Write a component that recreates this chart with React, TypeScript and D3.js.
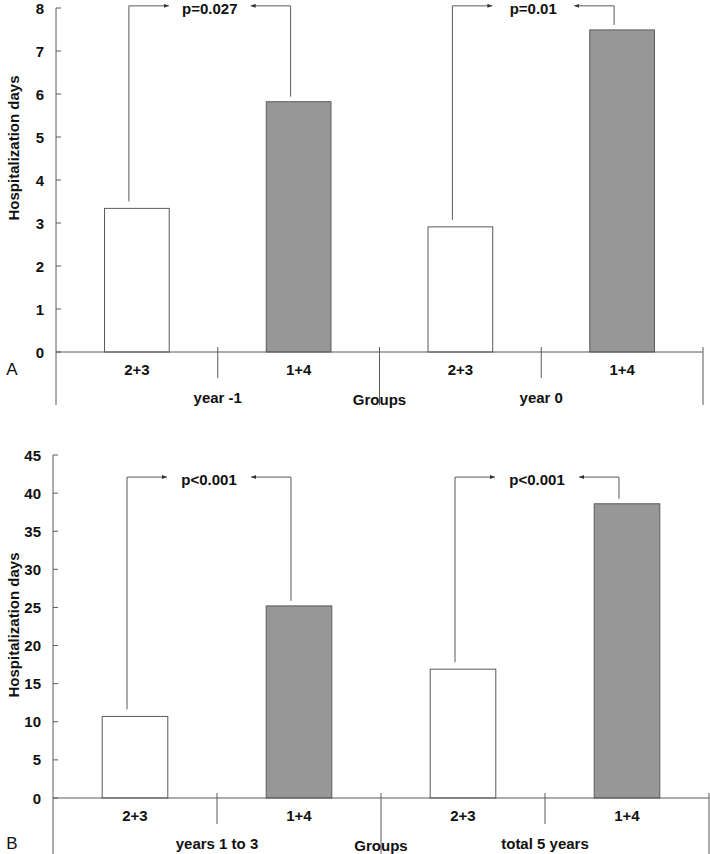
import * as d3 from "d3";

// bar groups, left to right
const groups = ["2+3", "1+4", "2+3", "1+4"];
const periodsA = ["year -1", "year 0"];
const periodsB = ["years 1 to 3", "total 5 years"];

// mean hospitalization days
const valuesA = [3.34, 5.82, 2.91, 7.49];
const valuesB = [10.7, 25.2, 16.9, 38.6];

const pLabelsA = ["p=0.027", "p=0.01"];
const pLabelsB = ["p<0.001", "p<0.001"];

const ticksA = [0, 1, 2, 3, 4, 5, 6, 7, 8];
const ticksB = [0, 5, 10, 15, 20, 25, 30, 35, 40, 45];

// height (in data units) of the significance brackets
const bracketA = 8.05;
const bracketB = 42.1;

const fills = ["#ffffff", "#979797"];
const FONT = "'Liberation Sans', Arial, sans-serif";
const LINE = "#5a5a5a";
const FS = 15;

interface PanelProps {
  letter: string;
  values: number[];
  periods: string[];
  pLabels: string[];
  ticks: number[];
  bracket: number;
  x0: number;
  x1: number;
  yTop: number;
  yBase: number;
  yBottom: number;
  yMax: number;
  labelY: number;
  letterY: number;
}

function Panel({
  letter,
  values,
  periods,
  pLabels,
  ticks,
  bracket,
  x0,
  x1,
  yTop,
  yBase,
  yBottom,
  yMax,
  labelY,
  letterY,
}: PanelProps) {
  const x = d3
    .scaleBand<number>()
    .domain(d3.range(groups.length))
    .range([x0, x1])
    .paddingInner(0.6)
    .paddingOuter(0.3);
  const y = d3.scaleLinear().domain([0, yMax]).range([yBase, yTop]);
  const step = x.step();
  const cx = (i: number) => (x(i) ?? 0) + x.bandwidth() / 2;

  // divider ticks on the category axis
  const dividers = [1, 2, 3, 4].map((k) => ({
    x: x0 + step * k,
    long: k % 2 === 0,
  }));

  const arrowLen = 40;
  const by = y(bracket);

  const label = {
    textAnchor: "middle" as const,
    dominantBaseline: "central" as const,
    fontSize: FS,
    fontWeight: "bold",
    fontFamily: FONT,
    fill: "#111",
  };

  return (
    <g>
      {/* bars */}
      {values.map((v, i) => (
        <rect
          key={i}
          x={x(i)}
          y={y(v)}
          width={x.bandwidth()}
          height={yBase - y(v)}
          fill={fills[i % 2]}
          stroke={LINE}
          strokeWidth={1}
        />
      ))}

      {/* y axis */}
      <line x1={x0} x2={x0} y1={yTop} y2={yBottom} stroke={LINE} />
      {ticks.map((t) => (
        <g key={t}>
          <line x1={x0} x2={x0 + 5} y1={y(t)} y2={y(t)} stroke={LINE} />
          <text {...label} x={x0 - 12} y={y(t)} textAnchor="end">
            {t}
          </text>
        </g>
      ))}
      <text {...label} transform={`translate(13,${labelY}) rotate(-90)`}>
        Hospitalization days
      </text>

      {/* x axis */}
      <line x1={x0} x2={x1} y1={yBase} y2={yBase} stroke={LINE} />
      {dividers.map((d, i) => (
        <line
          key={i}
          x1={d.x}
          x2={d.x}
          y1={yBase - 5}
          y2={d.long ? yBottom : yBase + 26}
          stroke={LINE}
        />
      ))}
      {groups.map((g, i) => (
        <text key={i} {...label} x={cx(i)} y={yBase + 17}>
          {g}
        </text>
      ))}
      {periods.map((p, i) => (
        <text key={p} {...label} x={x0 + step * (1 + 2 * i)} y={yBase + 45}>
          {p}
        </text>
      ))}
      <text {...label} x={x0 + step * 2} y={yBase + 47}>
        Groups
      </text>
      <text {...label} x={12} y={letterY} fontSize={17} fontWeight="normal">
        {letter}
      </text>

      {/* significance brackets */}
      {pLabels.map((p, k) => {
        const i = 2 * k;
        const la = cx(i) - 8;
        const ra = cx(i + 1) - 8;
        const mid = (la + ra) / 2;
        return (
          <g key={k}>
            <path
              d={`M${la},${y(values[i]) - 7}V${by}H${la + arrowLen}`}
              fill="none"
              stroke={LINE}
              markerEnd="url(#arrow)"
            />
            <path
              d={`M${ra},${y(values[i + 1]) - 5}V${by}H${ra - arrowLen}`}
              fill="none"
              stroke={LINE}
              markerEnd="url(#arrow)"
            />
            <text {...label} x={mid} y={by + 2.5}>
              {p}
            </text>
          </g>
        );
      })}
    </g>
  );
}

export default function App() {
  return (
    <div style={{ position: "absolute", left: 0, top: 0 }}>
      <svg width={710} height={854} style={{ display: "block", background: "#fff" }}>
        <defs>
          <marker
            id="arrow"
            viewBox="0 0 10 10"
            refX={10}
            refY={5}
            markerWidth={5}
            markerHeight={5}
            markerUnits="userSpaceOnUse"
            orient="auto"
          >
            <path d="M0,1L10,5L0,9Z" fill="#333" />
          </marker>
        </defs>
        <Panel
          letter="A"
          values={valuesA}
          periods={periodsA}
          pLabels={pLabelsA}
          ticks={ticksA}
          bracket={bracketA}
          x0={56}
          x1={703}
          yTop={8}
          yBase={352}
          yBottom={405}
          yMax={8}
          labelY={148}
          letterY={369}
        />
        <Panel
          letter="B"
          values={valuesB}
          periods={periodsB}
          pLabels={pLabelsB}
          ticks={ticksB}
          bracket={bracketB}
          x0={53}
          x1={709}
          yTop={455}
          yBase={798}
          yBottom={854}
          yMax={45}
          labelY={625}
          letterY={843}
        />
      </svg>
    </div>
  );
}
